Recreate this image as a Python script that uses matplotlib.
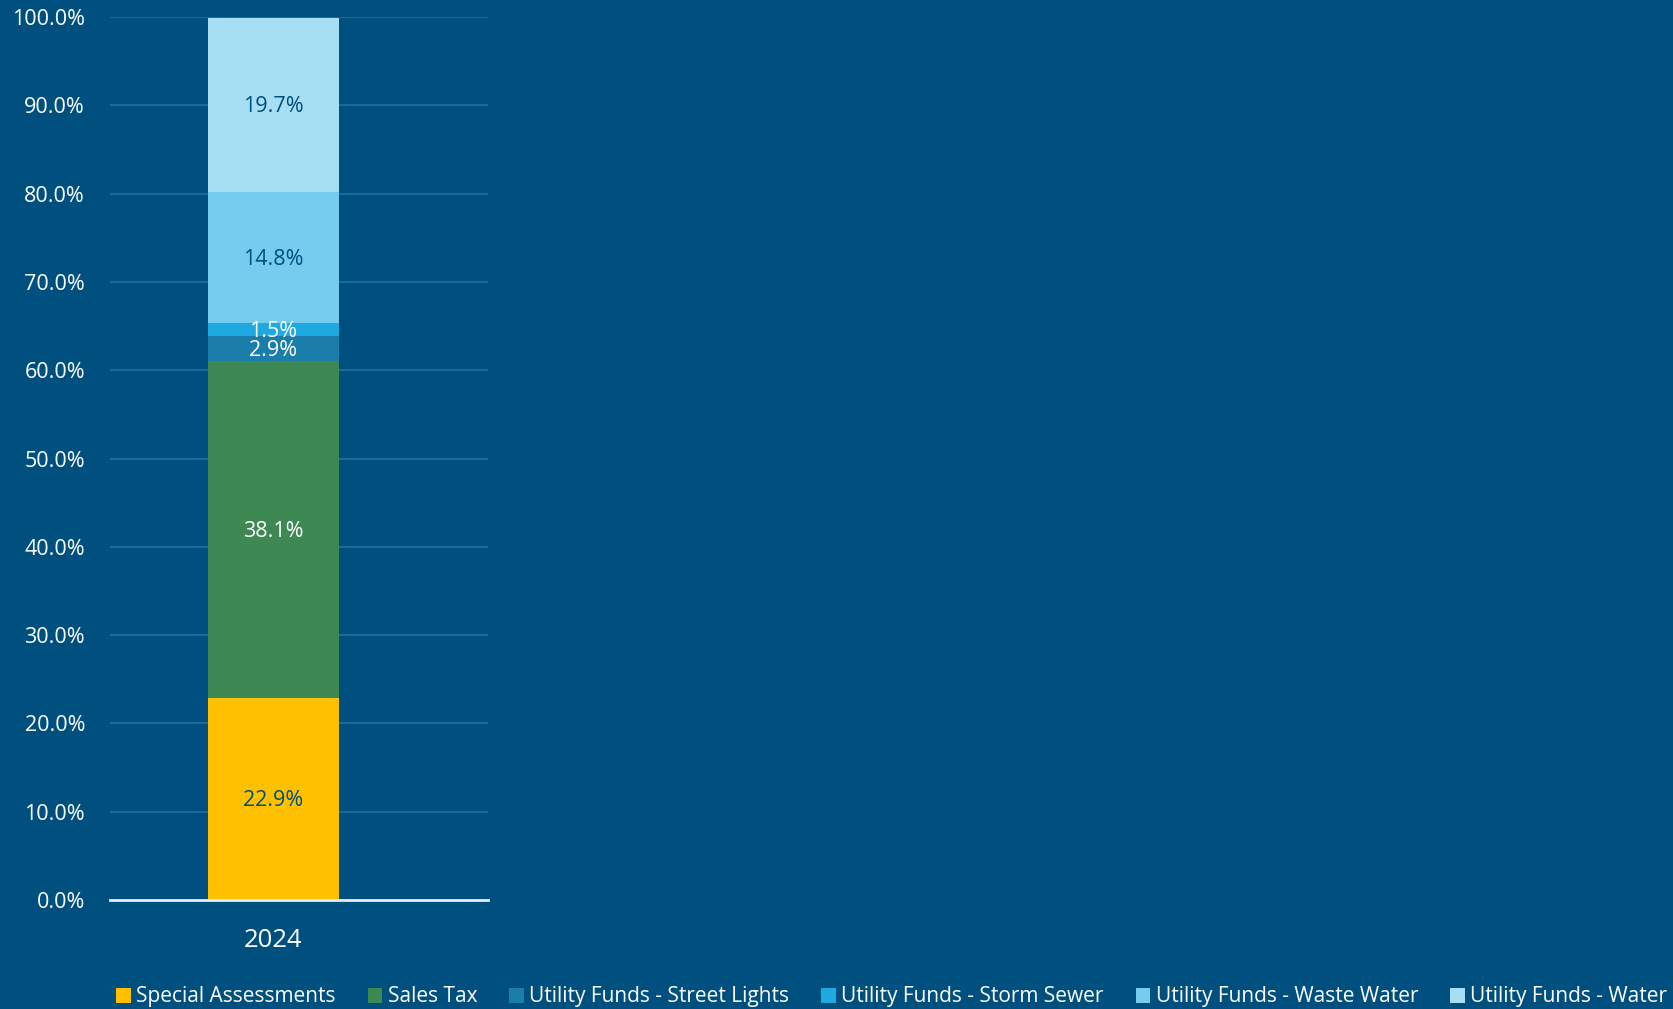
import matplotlib
matplotlib.use("Agg")
import matplotlib.pyplot as plt
from matplotlib.ticker import PercentFormatter

# Funding share by source, 2024
categories = ["2024"]
series_names = [
    "Special Assessments",
    "Sales Tax",
    "Utility Funds - Street Lights",
    "Utility Funds - Storm Sewer",
    "Utility Funds - Waste Water",
    "Utility Funds - Water",
]
series_values = [22.9, 38.1, 2.9, 1.5, 14.8, 19.7]
y_ticks = [0, 10, 20, 30, 40, 50, 60, 70, 80, 90, 100]

colors = ["#FFC000", "#3E8853", "#1A7DAA", "#1FA9E1", "#75CCEF", "#A6DEF3"]
label_colors = ["#00507F", "white", "white", "white", "#00507F", "#00507F"]
bg = "#00507F"

plt.rcParams["font.family"] = ["Open Sans", "DejaVu Sans"]

fig = plt.figure(figsize=(16.73, 10.09), dpi=100, facecolor=bg)
ax = fig.add_axes([0.0658, 0.108, 0.2259, 0.875], facecolor=bg)

bottom = 0.0
handles = []
for name, val, col, lc in zip(series_names, series_values, colors, label_colors):
    b = ax.bar(0, val, bottom=bottom, width=0.4, color=col, label=name, zorder=3)
    handles.append(b)
    ax.text(0, bottom + val / 2 - 0.2, f"{val:.1f}%", ha="center", va="center",
            color=lc, fontsize=15.5, zorder=4)
    bottom += val

ax.set_xlim(-0.5, 0.656)
ax.set_ylim(0, 100)
ax.set_yticks(y_ticks)
ax.yaxis.set_major_formatter(PercentFormatter(decimals=1))
ax.set_xticks([0])
ax.set_xticklabels(categories)
ax.grid(axis="y", color="#1B6A9C", linewidth=1.5, zorder=0)
for s in ["left", "right", "top"]:
    ax.spines[s].set_visible(False)
ax.spines["bottom"].set_color("#E8EEF3")
ax.spines["bottom"].set_linewidth(2)
ax.spines["bottom"].set_zorder(5)
ax.tick_params(axis="y", length=0, labelcolor="white", labelsize=15.5, pad=18)
ax.tick_params(axis="x", length=0, labelcolor="white", labelsize=18.5, pad=20)

leg = fig.legend(handles=handles, labels=series_names, loc="lower center",
                 bbox_to_anchor=(0.533, -0.017), ncol=6, frameon=False,
                 fontsize=15, handlelength=0.7, handleheight=0.75,
                 handletextpad=0.25, columnspacing=1.55, labelcolor="white")

fig.savefig("out.png", dpi=100, facecolor=bg)
